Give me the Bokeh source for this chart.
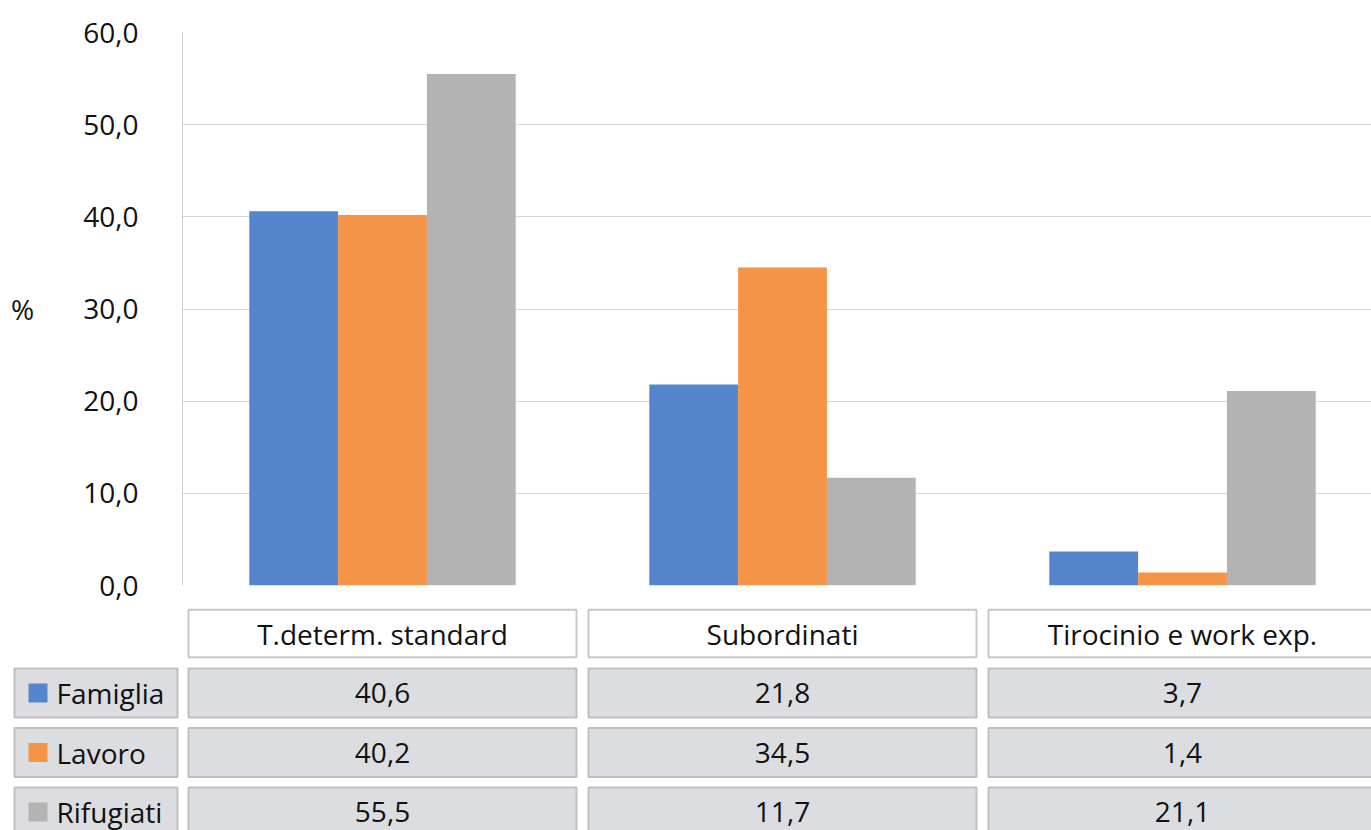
from bokeh.plotting import figure
from bokeh.models import ColumnDataSource, Range1d, FixedTicker, CustomJSTickFormatter
from bokeh.layouts import column, row
from bokeh.core.properties import value
from bokeh.embed import file_html
from bokeh.resources import INLINE

# ---- data -------------------------------------------------------------
categories = ["T.determ. standard", "Subordinati", "Tirocinio e work exp."]
series_names = ["Famiglia", "Lavoro", "Rifugiati"]
famiglia = [40.6, 21.8, 3.7]
lavoro = [40.2, 34.5, 1.4]
rifugiati = [55.5, 11.7, 21.1]
y_ticks = [0, 10, 20, 30, 40, 50, 60]

colors = ["#5585cd", "#f59447", "#b3b3b3"]
series_values = [famiglia, lavoro, rifugiati]

FONT = "Open Sans"
FS = "28px"
TXT = "#111111"


def fmt(v):
    return f"{v:.1f}".replace(".", ",")


# category slots sit at 0.5, 1.5, 2.5 on a numeric axis; the visible
# window ends a little before the last slot's right edge
cat_x = [i + 0.5 for i in range(len(categories))]
x_range = Range1d(0, 2.9725)

# ---- bar chart --------------------------------------------------------
p = figure(x_range=x_range, y_range=Range1d(0, 60), width=1371, height=606,
           min_border_left=182, min_border_right=0, min_border_top=32,
           min_border_bottom=21, output_backend="svg", toolbar_location=None,
           outline_line_color=None, background_fill_color="white")

bw = 0.222
for i, (vals, col) in enumerate(zip(series_values, colors)):
    src = ColumnDataSource(dict(x=[c + (i - 1) * bw for c in cat_x], top=vals))
    p.vbar(x="x", top="top", width=bw, source=src, fill_color=col,
           line_color=None)

p.xaxis.visible = False
p.xgrid.grid_line_color = None
p.ygrid.grid_line_color = "#d6d6d6"
p.ygrid.grid_line_width = 1
p.yaxis.ticker = FixedTicker(ticks=y_ticks)
p.yaxis.formatter = CustomJSTickFormatter(
    code="return tick.toFixed(1).replace('.', ',');")
p.yaxis.axis_line_color = "#d0d0d0"
p.yaxis.major_tick_line_color = None
p.yaxis.minor_tick_line_color = None
p.yaxis.major_tick_out = 0
p.yaxis.major_tick_in = 0
p.yaxis.major_label_standoff = 44
p.yaxis.major_label_text_font = FONT
p.yaxis.major_label_text_font_size = FS
p.yaxis.major_label_text_color = TXT
p.yaxis.axis_label = "%"
p.yaxis.axis_label_orientation = "horizontal"
p.yaxis.axis_label_standoff = 46
p.yaxis.axis_label_text_font = FONT
p.yaxis.axis_label_text_font_size = FS
p.yaxis.axis_label_text_font_style = "normal"
p.yaxis.axis_label_text_color = TXT

# ---- data table below the chart ---------------------------------------
y_rng = Range1d(3.311, -0.454)


def bare(fig):
    fig.axis.visible = False
    fig.grid.visible = False
    return fig


tbl = bare(figure(x_range=x_range, y_range=y_rng, width=1189, height=224,
                  min_border=0, output_backend="svg", toolbar_location=None,
                  outline_line_color=None))

# header row with category names
hdr = ColumnDataSource(dict(x=cat_x, row=[0] * len(categories), label=categories))
tbl.rect(x="x", y="row", width=0.97, height=0.8, source=hdr,
         fill_color="white", line_color="#c8c8c8", line_width=2)
tbl.text(x="x", y="row", text="label", source=hdr, text_align="center",
         text_baseline="middle", text_font=value(FONT), text_font_size=FS,
         text_color=TXT)

# value rows
cells = dict(x=[], row=[], label=[])
for r, vals in enumerate(series_values, start=1):
    for cx, v in zip(cat_x, vals):
        cells["x"].append(cx)
        cells["row"].append(r)
        cells["label"].append(fmt(v))
csrc = ColumnDataSource(cells)
tbl.rect(x="x", y="row", width=0.97, height=0.82, source=csrc,
         fill_color="#dcdde0", line_color="#c0c0c0", line_width=2)
tbl.text(x="x", y="row", text="label", source=csrc, text_align="center",
         text_baseline="middle", text_font=value(FONT), text_font_size=FS,
         text_color=TXT)

# legend column to the left of the table
leg = bare(figure(x_range=Range1d(0, 182), y_range=y_rng, width=182, height=224,
                  min_border=0, output_backend="svg", toolbar_location=None,
                  outline_line_color=None))
lsrc = ColumnDataSource(dict(row=[1, 2, 3], name=series_names, color=colors))
leg.rect(x=95.5, y="row", width=163, height=0.82, source=lsrc,
         fill_color="#dcdde0", line_color="#c0c0c0", line_width=2)
leg.rect(x=37.5, y="row", width=19, height=19, width_units="screen",
         height_units="screen", source=lsrc, fill_color="color", line_color=None)
leg.text(x=56, y="row", text="name", source=lsrc, text_align="left",
         text_baseline="middle", text_font=value(FONT), text_font_size=FS,
         text_color=TXT)

layout = column(p, row(leg, tbl, spacing=0), spacing=0)

open("out.html", "w").write(file_html(layout, INLINE))
